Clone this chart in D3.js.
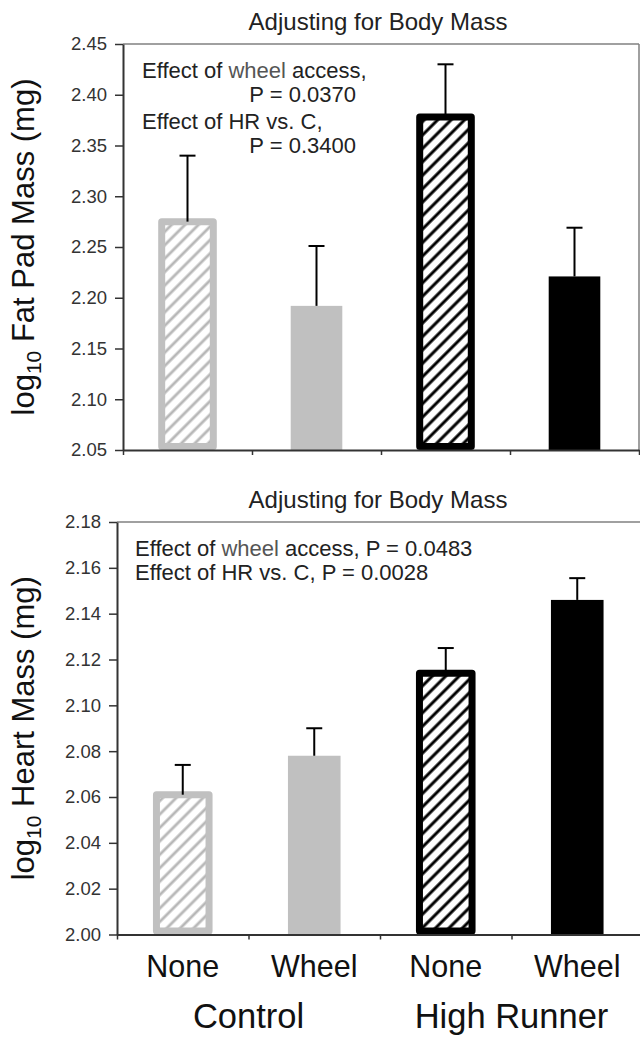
<!DOCTYPE html>
<html>
<head>
<meta charset="utf-8">
<script src="https://cdn.jsdelivr.net/npm/d3@7"></script>
<style>
  body { margin: 0; background: #fff; }
  svg { display: block; font-family: "Liberation Sans", Arial, sans-serif; }
</style>
</head>
<body>
<div id="chart"></div>
<script>
// data
var barKeys = ["C-None", "C-Wheel", "HR-None", "HR-Wheel"];
var treatments = ["None", "Wheel", "None", "Wheel"];
var groups = ["Control", "High Runner"];

var fatMean = [2.275, 2.192, 2.378, 2.221];
var fatErr = [0.065, 0.059, 0.052, 0.048];
var fatTicks = [2.05, 2.10, 2.15, 2.20, 2.25, 2.30, 2.35, 2.40, 2.45];
var fatNotes = ["Effect of wheel access,", "P = 0.0370", "Effect of HR vs. C,", "P = 0.3400"];

var heartMean = [2.061, 2.078, 2.114, 2.146];
var heartErr = [0.013, 0.012, 0.011, 0.0095];
var heartTicks = [2.00, 2.02, 2.04, 2.06, 2.08, 2.10, 2.12, 2.14, 2.16, 2.18];
var heartNotes = ["Effect of wheel access, P = 0.0483", "Effect of HR vs. C, P = 0.0028"];

var panelTitle = "Adjusting for Body Mass";

// bar looks, in barKeys order
var barStyle = [
  { fill: "url(#hatchGray)", stroke: "#c0c0c0" },
  { fill: "#c0c0c0", stroke: null },
  { fill: "url(#hatchBlack)", stroke: "#000" },
  { fill: "#000", stroke: null }
];

var svg = d3.select("#chart").append("svg")
  .attr("width", 640)
  .attr("height", 1038);

var defs = svg.append("defs");
function hatch(id, color, w) {
  var p = defs.append("pattern")
    .attr("id", id)
    .attr("patternUnits", "userSpaceOnUse")
    .attr("width", 9.5)
    .attr("height", 9.5)
    .attr("patternTransform", "rotate(45)");
  p.append("rect").attr("width", 9.5).attr("height", 9.5).attr("fill", "#fff");
  p.append("line")
    .attr("x1", 4.75).attr("x2", 4.75)
    .attr("y1", 0).attr("y2", 9.5)
    .attr("stroke", color)
    .attr("stroke-width", w);
}
hatch("hatchBlack", "#000", 3);
hatch("hatchGray", "#b8b8b8", 2.8);

var BORDER = 7;

function drawPanel(opt) {
  var g = svg.append("g");

  var x = d3.scaleBand().domain(barKeys).range([opt.left, opt.right]);
  var xb = d3.scaleLinear().domain([0, barKeys.length]).range([opt.left, opt.right]);
  var y = d3.scaleLinear()
    .domain([opt.ticks[0], opt.ticks[opt.ticks.length - 1]])
    .range([opt.bottom, opt.top]);
  var bw = x.bandwidth() * 0.4;
  var y0 = y.range()[0];

  // title
  g.append("text")
    .attr("x", opt.titleX)
    .attr("y", opt.top - 14)
    .attr("text-anchor", "middle")
    .attr("font-size", 24)
    .attr("fill", "#222")
    .text(panelTitle);

  // frame top / right
  g.append("line")
    .attr("x1", opt.left).attr("x2", opt.right)
    .attr("y1", opt.top).attr("y2", opt.top)
    .attr("stroke", "#808080").attr("stroke-width", 1.5);
  g.append("line")
    .attr("x1", opt.right).attr("x2", opt.right)
    .attr("y1", opt.top).attr("y2", opt.bottom)
    .attr("stroke", "#808080").attr("stroke-width", 1.5);

  g.selectAll(".bar")
    .data(opt.mean)
    .enter().append("rect")
    .attr("class", "bar")
    .attr("x", function (d, i) { return x(barKeys[i]) + (x.bandwidth() - bw) / 2; })
    .attr("width", bw)
    .attr("y", function (d) { return y(d); })
    .attr("height", function (d, i) {
      return y0 - y(d) - (barStyle[i].stroke ? BORDER / 2 : 0);
    })
    .attr("fill", function (d, i) { return barStyle[i].fill; })
    .attr("stroke", function (d, i) { return barStyle[i].stroke; })
    .attr("stroke-width", function (d, i) { return barStyle[i].stroke ? BORDER : 0; })
    .attr("stroke-linejoin", "round");

  // upper error bars only
  var err = g.selectAll(".err")
    .data(opt.mean)
    .enter().append("g")
    .attr("class", "err")
    .attr("stroke", "#000")
    .attr("stroke-width", 2);
  err.append("line")
    .attr("x1", function (d, i) { return x(barKeys[i]) + x.bandwidth() / 2; })
    .attr("x2", function (d, i) { return x(barKeys[i]) + x.bandwidth() / 2; })
    .attr("y1", function (d) { return y(d); })
    .attr("y2", function (d, i) { return y(d + opt.err[i]); });
  err.append("line")
    .attr("x1", function (d, i) { return x(barKeys[i]) + x.bandwidth() / 2 - 8; })
    .attr("x2", function (d, i) { return x(barKeys[i]) + x.bandwidth() / 2 + 8; })
    .attr("y1", function (d, i) { return y(d + opt.err[i]); })
    .attr("y2", function (d, i) { return y(d + opt.err[i]); });

  // y axis
  var yAxis = g.append("g")
    .attr("transform", "translate(" + opt.left + ",0)")
    .call(d3.axisLeft(y).tickValues(opt.ticks).tickFormat(d3.format(".2f"))
      .tickSize(8).tickSizeOuter(0).tickPadding(8));
  yAxis.select(".domain").attr("stroke", "#333").attr("stroke-width", 2);
  yAxis.selectAll(".tick line").attr("stroke", "#333").attr("stroke-width", 1.5);
  yAxis.selectAll(".tick text")
    .attr("font-size", 18.5)
    .attr("font-family", "Liberation Sans, Arial, sans-serif")
    .attr("fill", "#333");

  // x axis: ticks between categories
  var xAxis = g.append("g")
    .attr("transform", "translate(0," + y0 + ")")
    .call(d3.axisBottom(xb).tickValues(d3.range(barKeys.length + 1))
      .tickFormat("").tickSize(5).tickSizeOuter(0));
  xAxis.select(".domain").attr("stroke", "#333").attr("stroke-width", 2);
  xAxis.selectAll(".tick line").attr("stroke", "#333").attr("stroke-width", 1.5);

  // y label with subscript
  var lab = g.append("text")
    .attr("transform", "translate(34," + ((opt.top + opt.bottom) / 2) + ") rotate(-90)")
    .attr("text-anchor", "middle")
    .attr("font-size", 31)
    .attr("fill", "#111");
  lab.append("tspan").text("log");
  lab.append("tspan").attr("font-size", 21).attr("dy", 7).text("10");
  lab.append("tspan").attr("dy", -7).text(" " + opt.label);

  // notes
  g.selectAll(".note")
    .data(opt.notes)
    .enter().append("text")
    .attr("class", "note")
    .attr("x", function (d, i) { return opt.noteX[i]; })
    .attr("y", function (d, i) { return opt.noteY[i]; })
    .attr("text-anchor", function (d, i) { return opt.noteAnchor[i]; })
    .attr("font-size", 22)
    .attr("fill", "#222")
    .each(function (d) {
      var t = d3.select(this);
      var k = d.indexOf("wheel");
      if (k < 0) { t.text(d); return; }
      t.append("tspan").text(d.slice(0, k));
      t.append("tspan").attr("fill", "#555").text("wheel");
      t.append("tspan").text(d.slice(k + 5));
    });

  return x;
}

drawPanel({
  left: 123, right: 639, top: 44, bottom: 450, titleX: 378,
  mean: fatMean, err: fatErr, ticks: fatTicks,
  label: "Fat Pad Mass (mg)",
  notes: fatNotes,
  noteX: [142, 356, 142, 356],
  noteY: [78, 102, 129, 153],
  noteAnchor: ["start", "end", "start", "end"]
});

var xLow = drawPanel({
  left: 117, right: 643, top: 522, bottom: 934.5, titleX: 378,
  mean: heartMean, err: heartErr, ticks: heartTicks,
  label: "Heart Mass (mg)",
  notes: heartNotes,
  noteX: [135, 135],
  noteY: [556, 580],
  noteAnchor: ["start", "start"]
});

// category labels under the lower panel
svg.selectAll(".cat")
  .data(treatments)
  .enter().append("text")
  .attr("class", "cat")
  .attr("x", function (d, i) { return xLow(barKeys[i]) + xLow.bandwidth() / 2; })
  .attr("y", 977)
  .attr("text-anchor", "middle")
  .attr("font-size", 30.5)
  .attr("fill", "#111")
  .text(function (d) { return d; });

svg.selectAll(".grp")
  .data(groups)
  .enter().append("text")
  .attr("class", "grp")
  .attr("x", function (d, i) { return xLow(barKeys[i * 2]) + xLow.bandwidth(); })
  .attr("y", 1028)
  .attr("text-anchor", "middle")
  .attr("font-size", 34.5)
  .attr("fill", "#111")
  .text(function (d) { return d; });
</script>
</body>
</html>
